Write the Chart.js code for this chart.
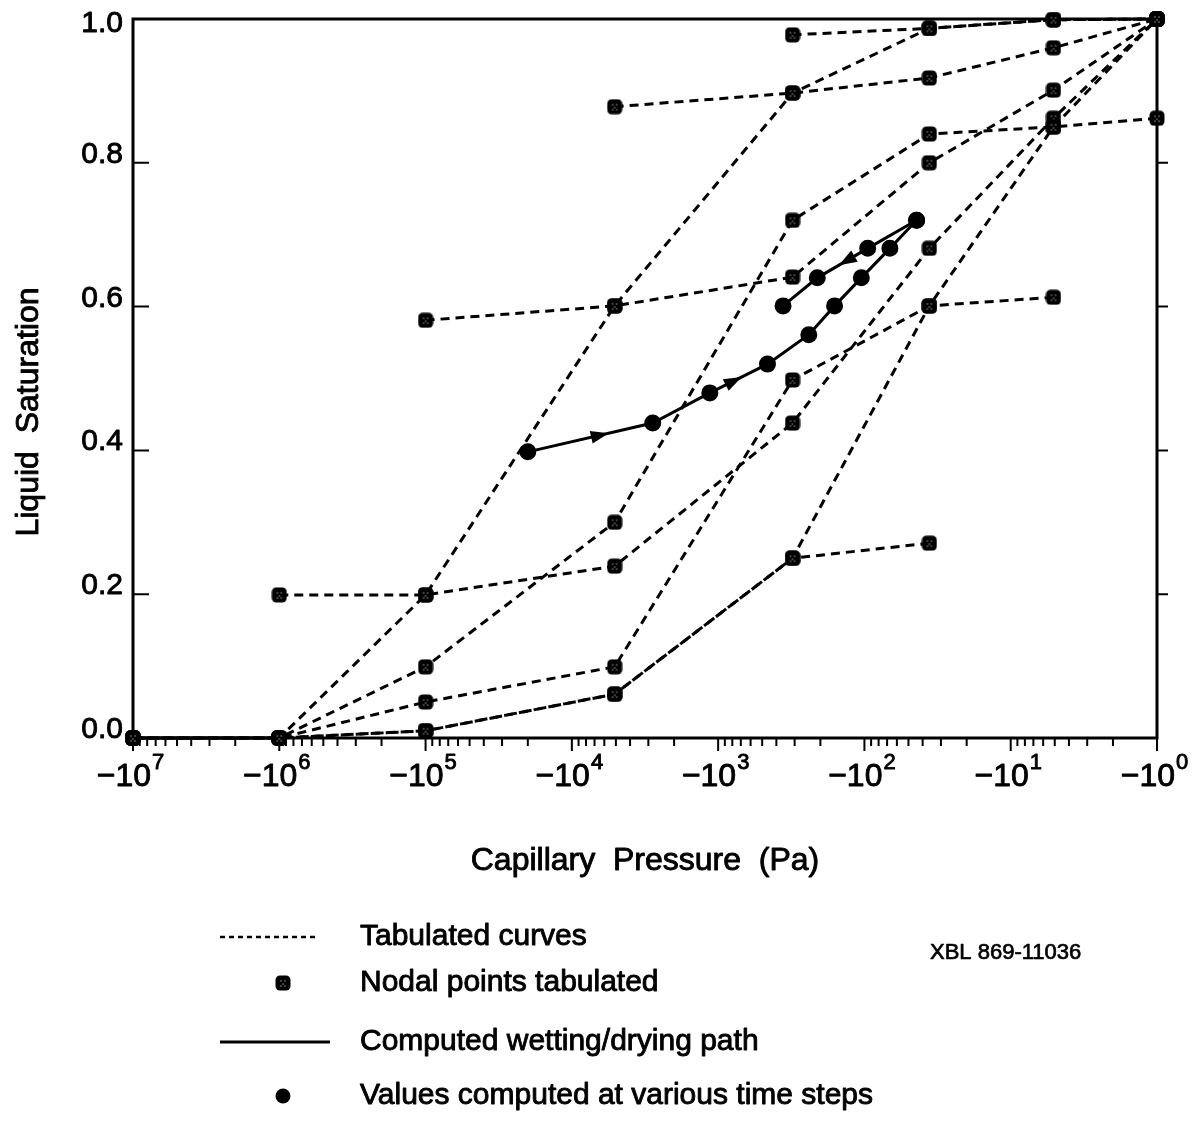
<!DOCTYPE html>
<html>
<head>
<meta charset="utf-8">
<script src="https://cdn.jsdelivr.net/npm/chart.js@4.4.1/dist/chart.umd.min.js"></script>
<style>
  html, body { margin: 0; padding: 0; background: #fff; }
  #wrap { width: 1202px; height: 1128px; }
</style>
</head>
<body>
<div id="wrap"><canvas id="chart" width="1202" height="1128"></canvas></div>
<script>
/* =======================
   DATA
======================= */
const xTickExponents = [7, 6, 5, 4, 3, 2, 1, 0];   // labels -10^n
const yTicks = [0.0, 0.2, 0.4, 0.6, 0.8, 1.0];

// tabulated nodal pressures (Pa) shared by all tabulated curves
const nodalPressure = [-1e7, -1e6, -1e5, -5.1e3, -3.1e2, -36, -5.1, -1];

// liquid saturation of each tabulated curve at the nodal pressures
const mainDrying  = [0, 0, 0.199, 0.601, 0.897, 0.987, 0.999, 1.0];
const mainWetting = [0, 0, 0.050, 0.099, 0.498, 0.601, 0.850, 1.0];
const wetting1    = [null, 0.199, 0.199, 0.239, 0.438, 0.681, 0.862, 1.0];
const wetting2    = [null, null, 0.581, 0.601, 0.641, 0.800, 0.901, 1.0];
const wetting3    = [null, null, null, 0.878, 0.897, 0.918, 0.960, 1.0];
const wetting4    = [null, null, null, null, 0.978, 0.987, 0.999, 1.0];
const drying1     = [0, 0, 0.099, 0.300, 0.720, 0.840, 0.850, 0.862];
const drying2     = [0, 0, 0.010, 0.061, 0.250, 0.271, null, null];
const drying3     = [0, 0, 0.010, 0.061, 0.250, 0.601, 0.613, null];

// computed path (values at time steps)
const pathWettingP = [-2.0e4, -2.8e3, -1.14e3, -4.6e2, -2.4e2, -1.6e2, -1.05e2, -67, -44];
const pathWettingS = [0.398, 0.438, 0.480, 0.520, 0.561, 0.601, 0.640, 0.681, 0.720];
const pathDryingP  = [-44, -95, -210, -360];
const pathDryingS  = [0.720, 0.681, 0.640, 0.601];

// arrows: branch, segment start index, fraction along segment
const pathArrows = [
    { branch: "wet", from: 0, t: 0.57 },
    { branch: "wet", from: 2, t: 0.40 },
    { branch: "dry", from: 1, t: 0.40 }
];

const legendItems = [
    { kind: "dash",   text: "Tabulated curves",                      y: 937 },
    { kind: "nodal",  text: "Nodal points tabulated",                y: 983 },
    { kind: "solid",  text: "Computed wetting/drying path",          y: 1042 },
    { kind: "dot",    text: "Values computed at various time steps", y: 1096 }
];

const FONT = '"Liberation Sans", Arial, Helvetica, sans-serif';

/* =======================
   HELPERS
======================= */
function logX(p) {
    return Math.log10(-p);
}

function roundRectPath(g, x, y, w, h, r) {
    g.beginPath();
    g.moveTo(x + r, y);
    g.lineTo(x + w - r, y);
    g.arc(x + w - r, y + r, r, -Math.PI / 2, 0);
    g.lineTo(x + w, y + h - r);
    g.arc(x + w - r, y + h - r, r, 0, Math.PI / 2);
    g.lineTo(x + r, y + h);
    g.arc(x + r, y + h - r, r, Math.PI / 2, Math.PI);
    g.lineTo(x, y + r);
    g.arc(x + r, y + r, r, Math.PI, Math.PI * 1.5);
    g.closePath();
}

function makeNodalMarker() {
    const c = document.createElement("canvas");
    c.width = 16;
    c.height = 16;
    const g = c.getContext("2d");
    g.fillStyle = "#000";
    roundRectPath(g, 0.5, 0.5, 15, 15, 4.5);
    g.fill();
    g.fillStyle = "#fff";
    [[6, 6], [10, 6], [8, 9], [6, 11], [10, 11]].forEach(([x, y]) => {
        g.fillRect(x - 0.5, y - 0.5, 1, 1);
    });
    return c;
}

const nodalMarker = makeNodalMarker();

// drying curves are traced from their wet end, wetting curves from their dry end
function tabulated(values, fromWetEnd) {
    let pts = values.map((s, i) => (s === null ? null : { x: logX(nodalPressure[i]), y: s })).filter(d => d);
    if (fromWetEnd) pts = pts.reverse();
    return {
        data: pts,
        borderColor: "#000",
        borderWidth: 3,
        borderDash: [9, 6],
        pointStyle: nodalMarker,
        pointRadius: 8,
        clip: false,
        tension: 0
    };
}

function computed(ps, ss) {
    return {
        data: ps.map((p, i) => ({ x: logX(p), y: ss[i] })),
        borderColor: "#000",
        borderWidth: 3,
        pointStyle: "circle",
        pointRadius: 7,
        pointBackgroundColor: "#000",
        pointBorderColor: "#000",
        clip: false,
        tension: 0
    };
}

function heavyText(ctx, text, x, y) {
    ctx.fillText(text, x, y);
    ctx.strokeText(text, x, y);
}

/* =======================
   AXES, TEXT, LEGEND
======================= */
const framePlugin = {
    id: "frame",
    beforeDatasetsDraw(chart) {
        const { ctx, chartArea: a, scales: { x, y } } = chart;
        ctx.save();
        ctx.strokeStyle = "#000";
        ctx.lineWidth = 3;
        ctx.strokeRect(a.left, a.top, a.right - a.left, a.bottom - a.top);

        ctx.lineWidth = 2;
        ctx.beginPath();
        yTicks.forEach(v => {
            if (v === 0 || v === 1) return;
            const py = y.getPixelForValue(v);
            ctx.moveTo(a.left, py);
            ctx.lineTo(a.left + 16, py);
            ctx.moveTo(a.right, py);
            ctx.lineTo(a.right + 11, py);
        });
        xTickExponents.forEach(e => {
            const px = x.getPixelForValue(e);
            ctx.moveTo(px, a.bottom);
            ctx.lineTo(px, a.bottom + 13);
            if (e < 7) {
                for (let m = 2; m <= 9; m++) {
                    const pm = x.getPixelForValue(e + Math.log10(m));
                    ctx.moveTo(pm, a.bottom);
                    ctx.lineTo(pm, a.bottom + 8);
                }
            }
        });
        ctx.stroke();
        ctx.restore();
    },
    afterDatasetsDraw(chart) {
        const { ctx, scales: { x, y } } = chart;
        const pts = { wet: [pathWettingP, pathWettingS], dry: [pathDryingP, pathDryingS] };
        ctx.save();
        ctx.fillStyle = "#000";
        pathArrows.forEach(ar => {
            const [ps, ss] = pts[ar.branch];
            const x0 = x.getPixelForValue(logX(ps[ar.from])), y0 = y.getPixelForValue(ss[ar.from]);
            const x1 = x.getPixelForValue(logX(ps[ar.from + 1])), y1 = y.getPixelForValue(ss[ar.from + 1]);
            const cx = x0 + (x1 - x0) * ar.t, cy = y0 + (y1 - y0) * ar.t;
            const ang = Math.atan2(y1 - y0, x1 - x0);
            ctx.save();
            ctx.translate(cx, cy);
            ctx.rotate(ang);
            ctx.beginPath();
            ctx.moveTo(10, 0);
            ctx.lineTo(-8, -6.5);
            ctx.lineTo(-8, 6.5);
            ctx.closePath();
            ctx.fill();
            ctx.restore();
        });
        ctx.restore();
    },
    afterDraw(chart) {
        const { ctx, chartArea: a, scales: { x, y } } = chart;
        ctx.save();
        ctx.fillStyle = "#000";
        ctx.strokeStyle = "#000";
        ctx.lineWidth = 0.9;
        ctx.lineJoin = "round";

        // y tick labels
        ctx.font = "30px " + FONT;
        ctx.textAlign = "right";
        ctx.textBaseline = "alphabetic";
        yTicks.forEach(v => {
            const py = Math.max(y.getPixelForValue(v), a.top + 13);
            heavyText(ctx, v.toFixed(1), a.left - 10, py);
        });

        // x tick labels  -10^n
        ctx.textAlign = "left";
        xTickExponents.forEach(e => {
            const px = x.getPixelForValue(e);
            ctx.font = "32px " + FONT;
            const base = "\u221210";
            const wb = ctx.measureText(base).width;
            ctx.font = "22px " + FONT;
            const sup = String(e);
            const ws = ctx.measureText(sup).width;
            const left = px - (wb + ws) / 2 - 3;
            ctx.font = "32px " + FONT;
            heavyText(ctx, base, left, a.bottom + 48);
            ctx.font = "22px " + FONT;
            heavyText(ctx, sup, left + wb + 1, a.bottom + 31);
        });

        // axis titles
        ctx.font = "32px " + FONT;
        ctx.textAlign = "center";
        heavyText(ctx, "Capillary  Pressure  (Pa)", 645, 870);
        ctx.save();
        ctx.translate(38, 412);
        ctx.rotate(-Math.PI / 2);
        heavyText(ctx, "Liquid  Saturation", 0, 0);
        ctx.restore();

        // legend
        ctx.textAlign = "left";
        ctx.textBaseline = "middle";
        ctx.font = "30px " + FONT;
        legendItems.forEach(item => {
            if (item.kind === "dash") {
                ctx.save();
                ctx.lineWidth = 2.5;
                ctx.setLineDash([5, 4]);
                ctx.beginPath();
                ctx.moveTo(220, item.y);
                ctx.lineTo(318, item.y);
                ctx.stroke();
                ctx.restore();
            } else if (item.kind === "nodal") {
                ctx.drawImage(nodalMarker, 283 - 8, item.y - 8);
            } else if (item.kind === "solid") {
                ctx.save();
                ctx.lineWidth = 3;
                ctx.beginPath();
                ctx.moveTo(220, item.y);
                ctx.lineTo(330, item.y);
                ctx.stroke();
                ctx.restore();
            } else {
                ctx.beginPath();
                ctx.arc(283, item.y, 7.5, 0, Math.PI * 2);
                ctx.fill();
            }
            heavyText(ctx, item.text, 360, item.y);
        });

        ctx.font = "22px " + FONT;
        ctx.lineWidth = 0.7;
        heavyText(ctx, "XBL 869-11036", 930, 953);
        ctx.restore();
    }
};

/* =======================
   CHART
======================= */
new Chart(document.getElementById("chart"), {
    type: "line",
    data: {
        datasets: [
            tabulated(mainDrying, true),
            tabulated(mainWetting, false),
            tabulated(wetting1, false),
            tabulated(wetting2, false),
            tabulated(wetting3, false),
            tabulated(wetting4, false),
            tabulated(drying1, true),
            tabulated(drying2, true),
            tabulated(drying3, true),
            computed(pathWettingP, pathWettingS),
            computed(pathDryingP, pathDryingS)
        ]
    },
    options: {
        responsive: false,
        animation: false,
        events: [],
        layout: { padding: { left: 133, right: 45, top: 19, bottom: 390 } },
        plugins: { legend: { display: false }, tooltip: { enabled: false } },
        scales: {
            x: { type: "linear", min: 0, max: 7, reverse: true, display: false },
            y: { type: "linear", min: 0, max: 1, display: false }
        }
    },
    plugins: [framePlugin]
});
</script>
</body>
</html>
